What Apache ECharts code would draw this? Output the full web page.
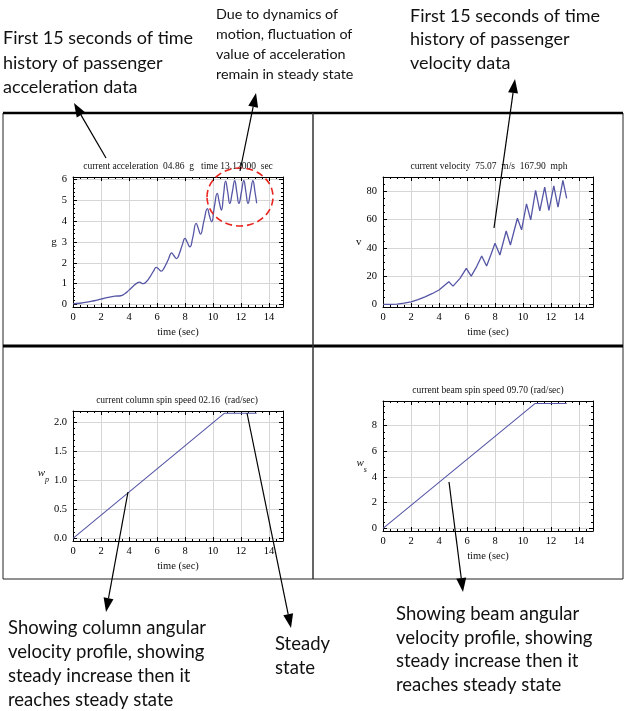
<!DOCTYPE html>
<html><head><meta charset="utf-8">
<script src="https://cdn.jsdelivr.net/npm/echarts@6/dist/echarts.min.js"></script>
<style>html,body{margin:0;padding:0;background:#fff}#c{width:625px;height:711px}</style>
</head><body><div id="c"></div>
<script>
// ---------- data ----------
const accTime = [0,0.5,1,1.5,2,2.5,3,3.4,3.7,4.0,4.3,4.6,4.75,5.0,5.25,5.5,5.75,5.95,6.1,6.3,6.5,6.8,7.05,7.2,7.4,7.6,7.8,8.0,8.15,8.35,8.55,8.8,8.95,9.1,9.35,9.6,9.75,9.9,10.1,10.3,10.45,10.6,10.75,10.9,11.05,11.2,11.38,11.55,11.7,11.85,12.03,12.2,12.35,12.5,12.68,12.85,13.0,13.12];
const accG    = [0.03,0.06,0.11,0.18,0.26,0.34,0.40,0.42,0.52,0.69,0.88,1.04,1.07,1.00,1.10,1.33,1.60,1.78,1.72,1.60,1.75,2.15,2.48,2.35,2.20,2.45,2.85,3.17,3.00,2.77,3.20,3.89,3.65,3.38,4.00,4.60,4.25,3.97,4.70,5.33,4.90,4.53,5.25,5.92,5.40,4.85,5.40,5.94,5.40,4.85,5.40,5.94,5.40,4.85,5.40,5.94,5.40,4.86];
const velTime = [0,0.5,1,1.5,2,2.5,3,3.5,4,4.7,5.0,5.5,5.95,6.3,6.7,7.05,7.4,7.7,8.0,8.35,8.8,9.1,9.6,9.9,10.25,10.55,10.9,11.2,11.55,11.85,12.2,12.5,12.85,13.12];
const velV    = [0,0.05,0.3,0.9,1.9,3.4,5.4,7.6,10.2,16.1,13.0,18.5,25.6,20.1,27.0,34.3,27.2,35.0,43.3,35.0,52.0,42.1,61.0,52.8,71.2,59.9,80.7,66.3,83.1,66.5,84.0,68.9,87.8,75.0];
const colTime = [0,10.8,13.12];
const colW    = [0,2.16,2.16];
const beamTime = [0,10.85,13.12];
const beamW    = [0,9.70,9.70];
const xTicks    = [0,2,4,6,8,10,12,14];
const accTicks  = [0,1,2,3,4,5,6];
const velTicks  = [0,20,40,60,80];
const colTicks  = [0,0.5,1.0,1.5,2.0];
const beamTicks = [0,2,4,6,8];
const titles = [
  'current acceleration  04.86  g   time 13.12000  sec',
  'current velocity  75.07  m/s  167.90  mph',
  'current column spin speed 02.16  (rad/sec)',
  'current beam spin speed 09.70 (rad/sec)'
];

// ---------- helpers ----------
const SERIF = '"Liberation Serif","DejaVu Serif",serif';
const SANS = 'Lato,"Open Sans",sans-serif';
const LINE = '#5656a6';
function minorsOf(min, max, step, majors){
  const out=[]; const s=Math.ceil(min/step-1e-9);
  for(let k=s; k*step<=max+1e-9; k++){
    const v=+(k*step).toFixed(6);
    if(!majors.some(m=>Math.abs(m-v)<1e-9)) out.push(v);
  }
  return out;
}
function zip(a,b){return a.map((t,i)=>[t,b[i]]);}

const panels = [
  {grid:{left:73,top:177,width:210,height:130}, ymin:-0.12, ymax:6.12, yTicks:accTicks, yStep:0.2, fmt:v=>String(v),
   yName:'g', yGap:14, data:zip(accTime,accG), smooth:0.5, lw:1.3, title:[178,166]},
  {grid:{left:383,top:177,width:210,height:130}, ymin:-1.8, ymax:90.2, yTicks:velTicks, yStep:5, fmt:v=>String(v),
   yName:'v', yGap:18, data:zip(velTime,velV), smooth:false, lw:1.3, title:[489,166]},
  {grid:{left:73,top:411,width:210,height:130}, ymin:-0.044, ymax:2.2, yTicks:colTicks, yStep:0.1, fmt:v=>v.toFixed(1),
   yName:'{i|w}{s|p}', yGap:22, data:zip(colTime,colW), smooth:false, lw:1.1, title:[177,400]},
  {grid:{left:383,top:401,width:210,height:130}, ymin:-0.2, ymax:9.9, yTicks:beamTicks, yStep:0.5, fmt:v=>String(v),
   yName:'{i|w}{s|s}', yGap:14, data:zip(beamTime,beamW), smooth:false, lw:1.1, title:[488,390]}
];

const grids=[], xAxes=[], yAxes=[], series=[], graphics=[];
const labelFont = {fontFamily:SERIF, fontSize:10.5, color:'#000'};
const richName = {i:{fontFamily:SERIF, fontStyle:'italic', fontSize:11, color:'#111', lineHeight:16, verticalAlign:'top'},
                  s:{fontFamily:SERIF, fontStyle:'italic', fontSize:8, color:'#111', lineHeight:16, verticalAlign:'bottom'}};

panels.forEach((p,i)=>{
  grids.push(p.grid);
  const xMin=0, xMax=15;
  const xMinor = minorsOf(xMin,xMax,0.5,xTicks);
  const yMinor = minorsOf(p.ymin,p.ymax,p.yStep,p.yTicks);
  const base = (pos, min, max, vals, major) => ({
    gridIndex:i, type:'value', position:pos, min, max,
    axisLine:{show:major, onZero:false, lineStyle:{color:'#000', width:1}},
    axisTick:{show:true, inside:true, length: major?4:2, customValues: vals, lineStyle:{color:'#000', width:1}},
    axisLabel:{show:false, customValues: vals},
    splitLine:{show:false},
    silent:true
  });
  const xb = base('bottom',xMin,xMax,xTicks,true);
  xb.axisLabel = Object.assign({show:true, customValues:xTicks, margin:5, formatter:v=>String(v)}, labelFont);
  xb.splitLine = {show:true, lineStyle:{color:'#d6d6d6', width:1}};
  xb.name='time (sec)'; xb.nameLocation='middle'; xb.nameGap=20;
  xb.nameTextStyle={fontFamily:SERIF, fontSize:10.5, color:'#111'};
  xAxes.push(xb, base('bottom',xMin,xMax,xMinor,false), base('top',xMin,xMax,xTicks,true), base('top',xMin,xMax,xMinor,false));
  const yl = base('left',p.ymin,p.ymax,p.yTicks,true);
  yl.axisLabel = Object.assign({show:true, customValues:p.yTicks, margin:6, formatter:p.fmt}, labelFont);
  yl.splitLine = {show:true, lineStyle:{color:'#d6d6d6', width:1}};
  yl.name=p.yName; yl.nameLocation='middle'; yl.nameRotate=0; yl.nameGap=p.yGap;
  yl.nameTextStyle={fontFamily:SERIF, fontSize:11, color:'#111', rich:richName};
  yAxes.push(yl, base('left',p.ymin,p.ymax,yMinor,false), base('right',p.ymin,p.ymax,p.yTicks,true), base('right',p.ymin,p.ymax,yMinor,false));
  series.push({type:'line', xAxisIndex:4*i, yAxisIndex:4*i, data:p.data, showSymbol:false, smooth:p.smooth,
    lineStyle:{color:LINE, width:p.lw}, clip:true, silent:true});
  graphics.push({type:'text', z:50, style:{text:titles[i], x:p.title[0], y:p.title[1], align:'center', verticalAlign:'middle',
    font:'9.5px '+SERIF, fill:'#111'}});
});

graphics.push(
  {type:'rect', z:40, shape:{x:3,y:113,width:620,height:466}, style:{fill:'none', stroke:'#222', lineWidth:1}},
  {type:'line', z:41, shape:{x1:3,y1:113,x2:623,y2:113}, style:{stroke:'#000', lineWidth:2.5}},
  {type:'line', z:41, shape:{x1:3,y1:346,x2:623,y2:346}, style:{stroke:'#000', lineWidth:3}},
  {type:'line', z:41, shape:{x1:313,y1:113,x2:313,y2:579}, style:{stroke:'#333', lineWidth:1.5}}
);

function arrow(x1,y1,x2,y2){
  const dx=x2-x1, dy=y2-y1, L=Math.hypot(dx,dy), ux=dx/L, uy=dy/L;
  const hl=14, hw=5;
  const bx=x2-ux*hl, by=y2-uy*hl;
  return [
    {type:'line', z:60, shape:{x1,y1,x2:bx,y2:by}, style:{stroke:'#000', lineWidth:1.2}},
    {type:'polygon', z:60, shape:{points:[[x2,y2],[bx-uy*hw,by+ux*hw],[bx+uy*hw,by-ux*hw]]}, style:{fill:'#000'}}
  ];
}
graphics.push(
  ...arrow(106,158,74,103),
  ...arrow(240,171,256,93),
  ...arrow(494,228,515,79),
  ...arrow(128,492,106,612),
  ...arrow(247,413,291,628),
  ...arrow(449,482,463,592),
  {type:'ellipse', z:55, shape:{cx:240,cy:197,rx:33,ry:29}, style:{fill:'none', stroke:'#e8251f', lineWidth:1.6, lineDash:[7,4]}}
);

function note(text,x,y,size,lh){
  return {type:'text', z:60, style:{text, x, y, font:size+'px '+SANS, fill:'#111', lineHeight:lh, verticalAlign:'top', align:'left'}};
}
graphics.push(
  note('First 15 seconds of time\nhistory of passenger\nacceleration data',3,26,18,24.5),
  note('Due to dynamics of\nmotion, fluctuation of\nvalue of acceleration\nremain in steady state',216,5,14.3,19.7),
  note('First 15 seconds of time\nhistory of passenger\nvelocity data',410,4,18,23.5),
  note('Showing column angular\nvelocity profile, showing\nsteady increase then it\nreaches steady state',8,616,18.5,24),
  note('Steady\nstate',275,632,18.5,24),
  note('Showing beam angular\nvelocity profile, showing\nsteady increase then it\nreaches steady state',396,602,18.5,23.7)
);

const chart = echarts.init(document.getElementById('c'), null, {renderer:'canvas'});
chart.setOption({
  animation:false, backgroundColor:'#fff',
  grid:grids, xAxis:xAxes, yAxis:yAxes, series, graphic:graphics
});
</script></body></html>
